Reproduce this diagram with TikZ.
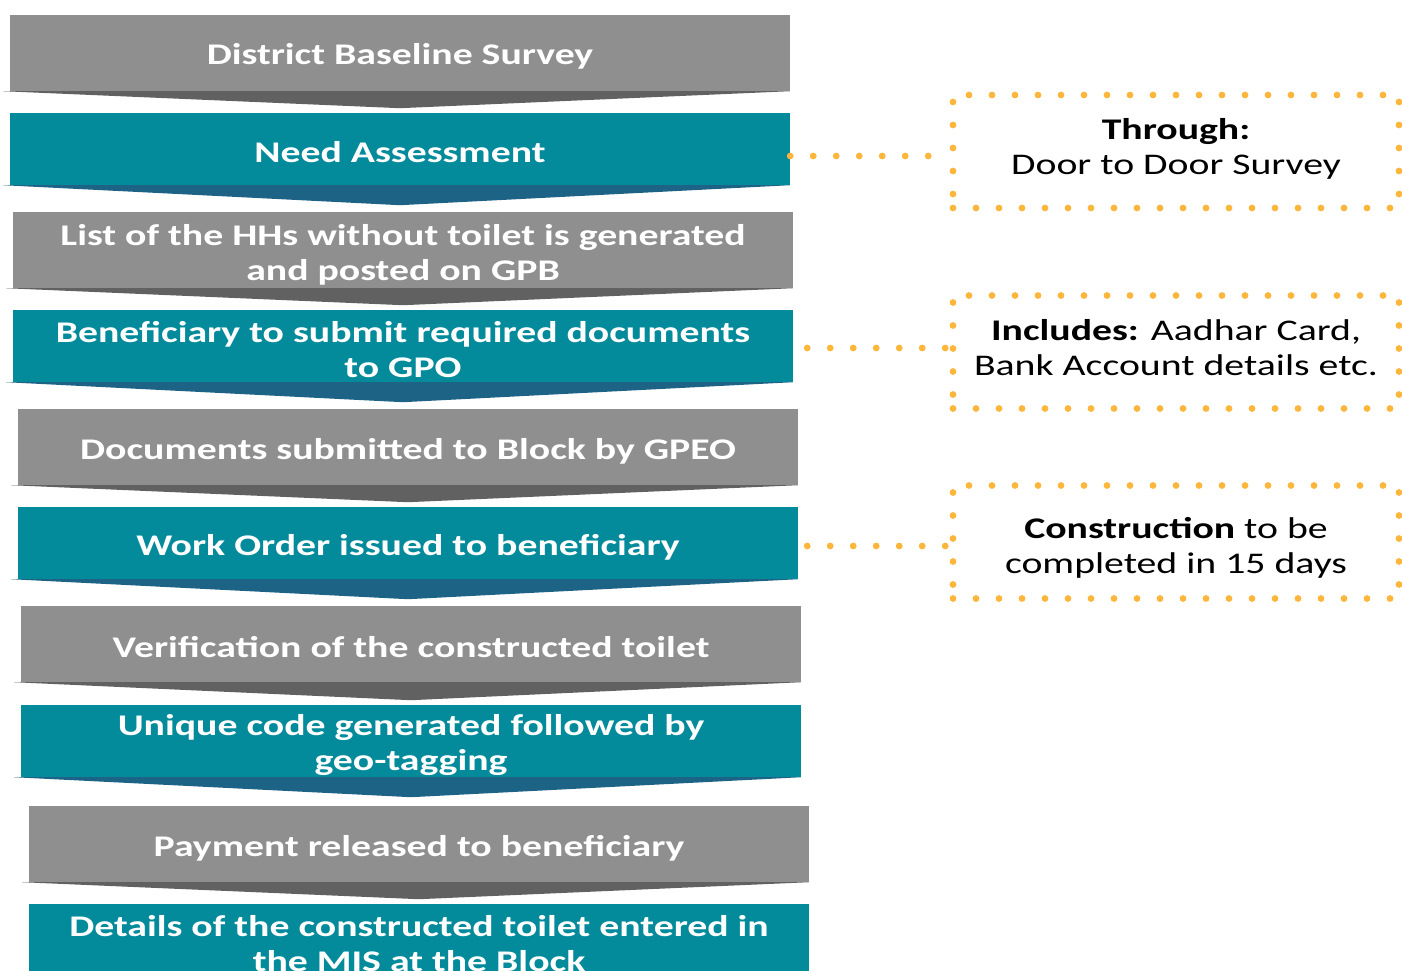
\documentclass[tikz,border=0pt]{standalone}
\usepackage{fontspec}
\setmainfont{Carlito}[FakeStretch=1.325]
\usetikzlibrary{calc}
\definecolor{stepgray}{HTML}{8F8F8F}
\definecolor{stepgraydark}{HTML}{616161}
\definecolor{stepteal}{HTML}{038A9B}
\definecolor{steptealdark}{HTML}{1C6385}
\definecolor{dotorange}{HTML}{FBB63B}
\tikzset{
  stepbox/.style={rectangle, inner sep=0pt, minimum width=780pt},
  graystep/.style={stepbox, fill=stepgray, minimum height=76pt},
  tealstep/.style={stepbox, fill=stepteal, minimum height=72pt},
  steptext/.style={inner sep=0pt, text=white, align=center,
    font=\fontsize{30}{35}\selectfont\bfseries},
  dotline/.style={draw=dotorange, line width=6.8pt, line cap=round,
    dash pattern=on 0pt off 23pt},
  notebox/.style={dotline, rectangle, inner sep=0pt, minimum width=446pt,
    minimum height=113pt},
  notetext/.style={inner sep=0pt, align=center, text=black,
    font=\fontsize{30}{35}\selectfont},
}
% chevron wedge under a step: #1 node, #2 colour, #3 depth of the tip
\newcommand{\stepwedge}[3]{%
  \fill[#2] ($(#1.south west)+(-7,0)$) -- ($(#1.south)+(0,#3)$) -- (#1.south east) -- cycle;}
\begin{document}
\begin{tikzpicture}[x=1pt,y=-1pt]
\useasboundingbox (0,0) rectangle (1402,970);
\clip (0,0) rectangle (1402,970);

% process steps
\node[graystep] (s1) at (400,53) {};
\stepwedge{s1}{stepgraydark}{17}
\node[steptext] (t1) at ($(s1)+(0,3)$) {District Baseline Survey};

\node[tealstep] (s2) at (400,149) {};
\stepwedge{s2}{steptealdark}{20}
\node[steptext] (t2) at ($(s2)+(0,3)$) {Need Assessment};

\node[graystep] (s3) at (403,250) {};
\stepwedge{s3}{stepgraydark}{17}
\node[steptext] (t3) at ($(s3)+(0,4.5)$) {List of the HHs without toilet is generated\\and posted on GPB};

\node[tealstep] (s4) at (403,346) {};
\stepwedge{s4}{steptealdark}{20}
\node[steptext] (t4) at ($(s4)+(0,4)$) {Beneficiary to submit required documents\\to GPO};

\node[graystep] (s5) at (408,447) {};
\stepwedge{s5}{stepgraydark}{17}
\node[steptext] (t5) at ($(s5)+(0,4.5)$) {Documents submitted to Block by GPEO};

\node[tealstep] (s6) at (408,543) {};
\stepwedge{s6}{steptealdark}{20}
\node[steptext] (t6) at ($(s6)+(0,4.5)$) {Work Order issued to beneficiary};

\node[graystep] (s7) at (411,644) {};
\stepwedge{s7}{stepgraydark}{18}
\node[steptext] (t7) at ($(s7)+(0,3)$) {Verification of the constructed toilet};

\node[tealstep] (s8) at (411,741) {};
\stepwedge{s8}{steptealdark}{20}
\node[steptext] (t8) at ($(s8)+(0,4.5)$) {Unique code generated followed by\\geo-tagging};

\node[graystep] (s9) at (419,844) {};
\stepwedge{s9}{stepgraydark}{17}
\node[steptext] (t9) at ($(s9)+(0,4.5)$) {Payment released to beneficiary};

\node[tealstep, minimum height=76pt] (s10) at (419,942) {};
\node[steptext] (t10) at ($(s10)+(0,2)$) {Details of the constructed toilet entered in\\the MIS at the Block};

% side notes
\node[notebox] (n1) at (1176,151.5) {};
\node[notetext] (m1) at ($(n1)+(0,-3)$) {\textbf{Through:}\\Door to Door Survey};
\node[notebox] (n2) at (1176,352) {};
\node[notetext] (m2) at ($(n2)+(0,-4.5)$) {\textbf{Includes:} Aadhar Card,\\Bank Account details etc.};
\node[notebox] (n3) at (1176,542) {};
\node[notetext] (m3) at ($(n3)+(0,6)$) {\textbf{Construction} to be\\completed in 15 days};

% dotted links from steps to notes
\coordinate (c1) at ($(s2.east)+(0,7)$);
\draw[dotline] (c1) -- (c1 -| n1.west);
\coordinate (c2) at ($(s4.east)+(14,2)$);
\draw[dotline] (c2) -- (c2 -| n2.west);
\coordinate (c3) at ($(s6.east)+(9,3)$);
\draw[dotline] (c3) -- (c3 -| n3.west);
\end{tikzpicture}
\end{document}
